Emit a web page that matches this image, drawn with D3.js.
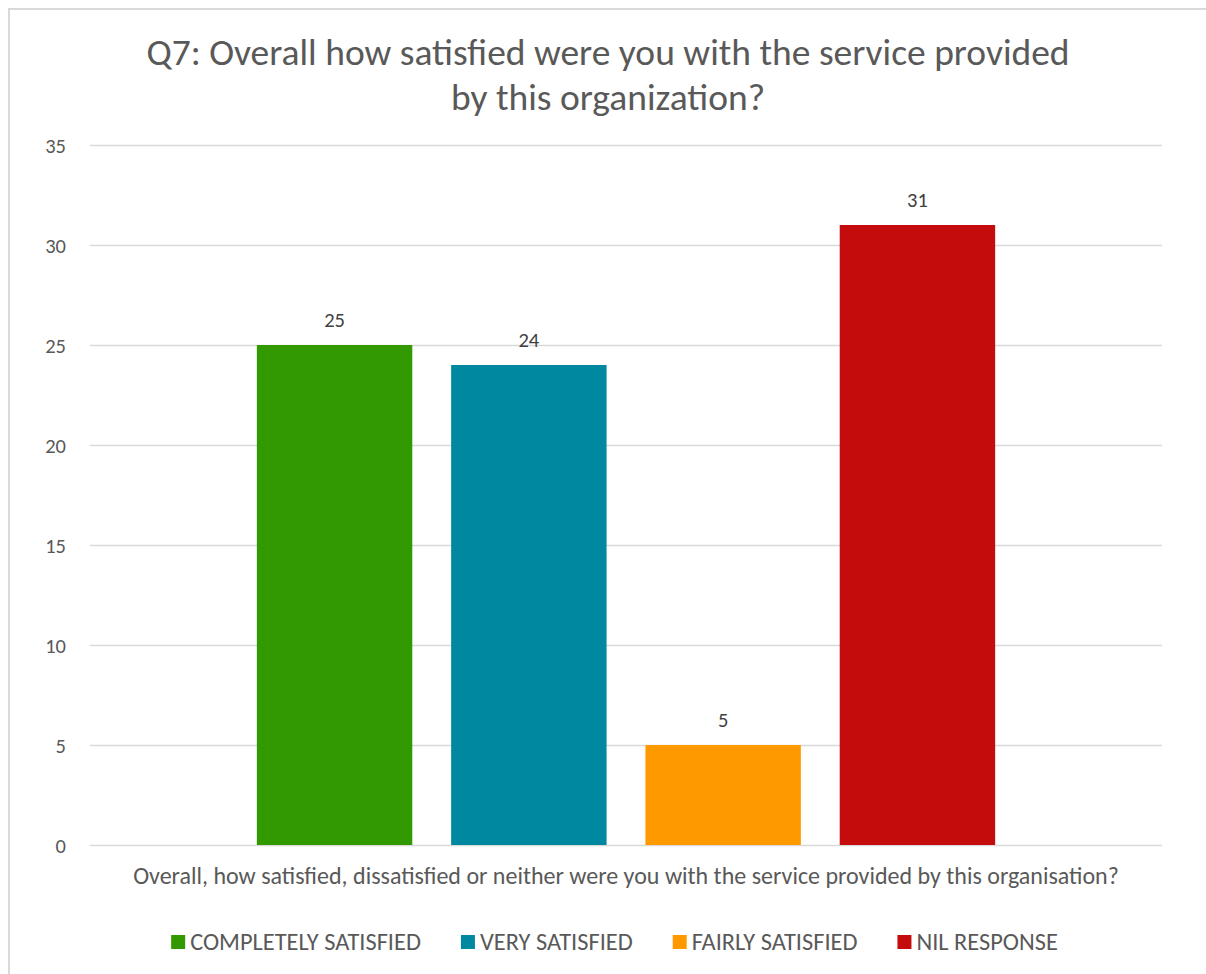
<!DOCTYPE html>
<html>
<head>
<meta charset="utf-8">
<script src="https://cdn.jsdelivr.net/npm/d3@7/dist/d3.min.js"></script>
<style>
  html, body { margin: 0; padding: 0; background: #ffffff; }
  svg { display: block; }
  text { font-family: Carlito, Lato, "Open Sans", sans-serif; }
</style>
</head>
<body>
<svg id="chart" width="1206" height="974"></svg>
<script>
// Survey responses for Q7
const titleLines = ["Q7: Overall how satisfied were you with the service provided", "by this organization?"];
const category = "Overall, how satisfied, dissatisfied or neither were you with the service provided by this organisation?";
const seriesNames = ["COMPLETELY SATISFIED", "VERY SATISFIED", "FAIRLY SATISFIED", "NIL RESPONSE"];
const seriesValues = [25, 24, 5, 31];
const seriesColors = ["#339900", "#0088A0", "#FF9900", "#C40C0C"];
const yTicks = [0, 5, 10, 15, 20, 25, 30, 35];

const svg = d3.select("#chart");
const W = 1206, H = 974;

svg.append("rect").attr("width", W).attr("height", H).attr("fill", "#ffffff");

// chart frame
svg.append("rect")
  .attr("x", 9).attr("y", 9)
  .attr("width", W + 20).attr("height", H + 20)
  .attr("fill", "none")
  .attr("stroke", "#d9d9d9")
  .attr("stroke-width", 2);

const plot = { left: 90, right: 1162, top: 145, bottom: 845 };

const y = d3.scaleLinear().domain([0, 35]).range([plot.bottom, plot.top]);

const x0 = d3.scaleBand()
  .domain([category])
  .range([plot.left, plot.right])
  .paddingInner(0)
  .paddingOuter(0.226);

const x1 = d3.scaleBand()
  .domain(seriesNames)
  .range([0, x0.bandwidth()])
  .paddingInner(0.2)
  .paddingOuter(0);

// gridlines and value axis
const yAxis = d3.axisLeft(y)
  .tickValues(yTicks)
  .tickSize(-(plot.right - plot.left))
  .tickPadding(24)
  .tickFormat(d3.format("d"));

const gAxis = svg.append("g")
  .attr("transform", `translate(${plot.left},0)`)
  .call(yAxis);
gAxis.select(".domain").remove();
gAxis.selectAll(".tick line").attr("stroke", "#d9d9d9").attr("stroke-width", 1.5);
gAxis.selectAll(".tick text")
  .attr("fill", "#595959")
  .style("font-size", "20.5px")
  .attr("dy", "0.35em");

// bars
const group = svg.append("g").attr("transform", `translate(${x0(category)},0)`);
const data = seriesNames.map((name, i) => ({ name, value: seriesValues[i], color: seriesColors[i] }));

group.selectAll("rect.bar")
  .data(data)
  .join("rect")
  .attr("class", "bar")
  .attr("x", d => x1(d.name))
  .attr("y", d => y(d.value))
  .attr("width", x1.bandwidth())
  .attr("height", d => y(0) - y(d.value))
  .attr("fill", d => d.color);

group.selectAll("text.val")
  .data(data)
  .join("text")
  .attr("class", "val")
  .attr("x", d => x1(d.name) + x1.bandwidth() / 2)
  .attr("y", d => y(d.value) - 18)
  .attr("text-anchor", "middle")
  .attr("fill", "#404040")
  .style("font-size", "20.5px")
  .text(d => d.value);

// category axis label
svg.append("text")
  .attr("x", x0(category) + x0.bandwidth() / 2)
  .attr("y", 884)
  .attr("text-anchor", "middle")
  .attr("fill", "#595959")
  .style("font-size", "24px")
  .text(category);

// title
svg.append("text")
  .attr("text-anchor", "middle")
  .attr("fill", "#595959")
  .style("font-size", "37.5px")
  .selectAll("tspan")
  .data(titleLines)
  .join("tspan")
  .attr("x", 608)
  .attr("y", (d, i) => 65 + i * 45)
  .text(d => d);

// legend
const legend = svg.append("g");
const items = legend.selectAll("g.item")
  .data(data)
  .join("g")
  .attr("class", "item");
items.append("rect")
  .attr("width", 14).attr("height", 14)
  .attr("y", 935)
  .attr("fill", d => d.color);
items.append("text")
  .attr("x", 19)
  .attr("y", 949.5)
  .attr("fill", "#595959")
  .style("font-size", "24.4px")
  .text(d => d.name);

let cursor = 0;
const gap = 40;
items.each(function () {
  const g = d3.select(this);
  const w = 19 + g.select("text").node().getComputedTextLength();
  g.attr("transform", `translate(${cursor},0)`);
  cursor += w + gap;
});
const legendWidth = cursor - gap;
legend.attr("transform", `translate(${614.5 - legendWidth / 2},0)`);
</script>
</body>
</html>
